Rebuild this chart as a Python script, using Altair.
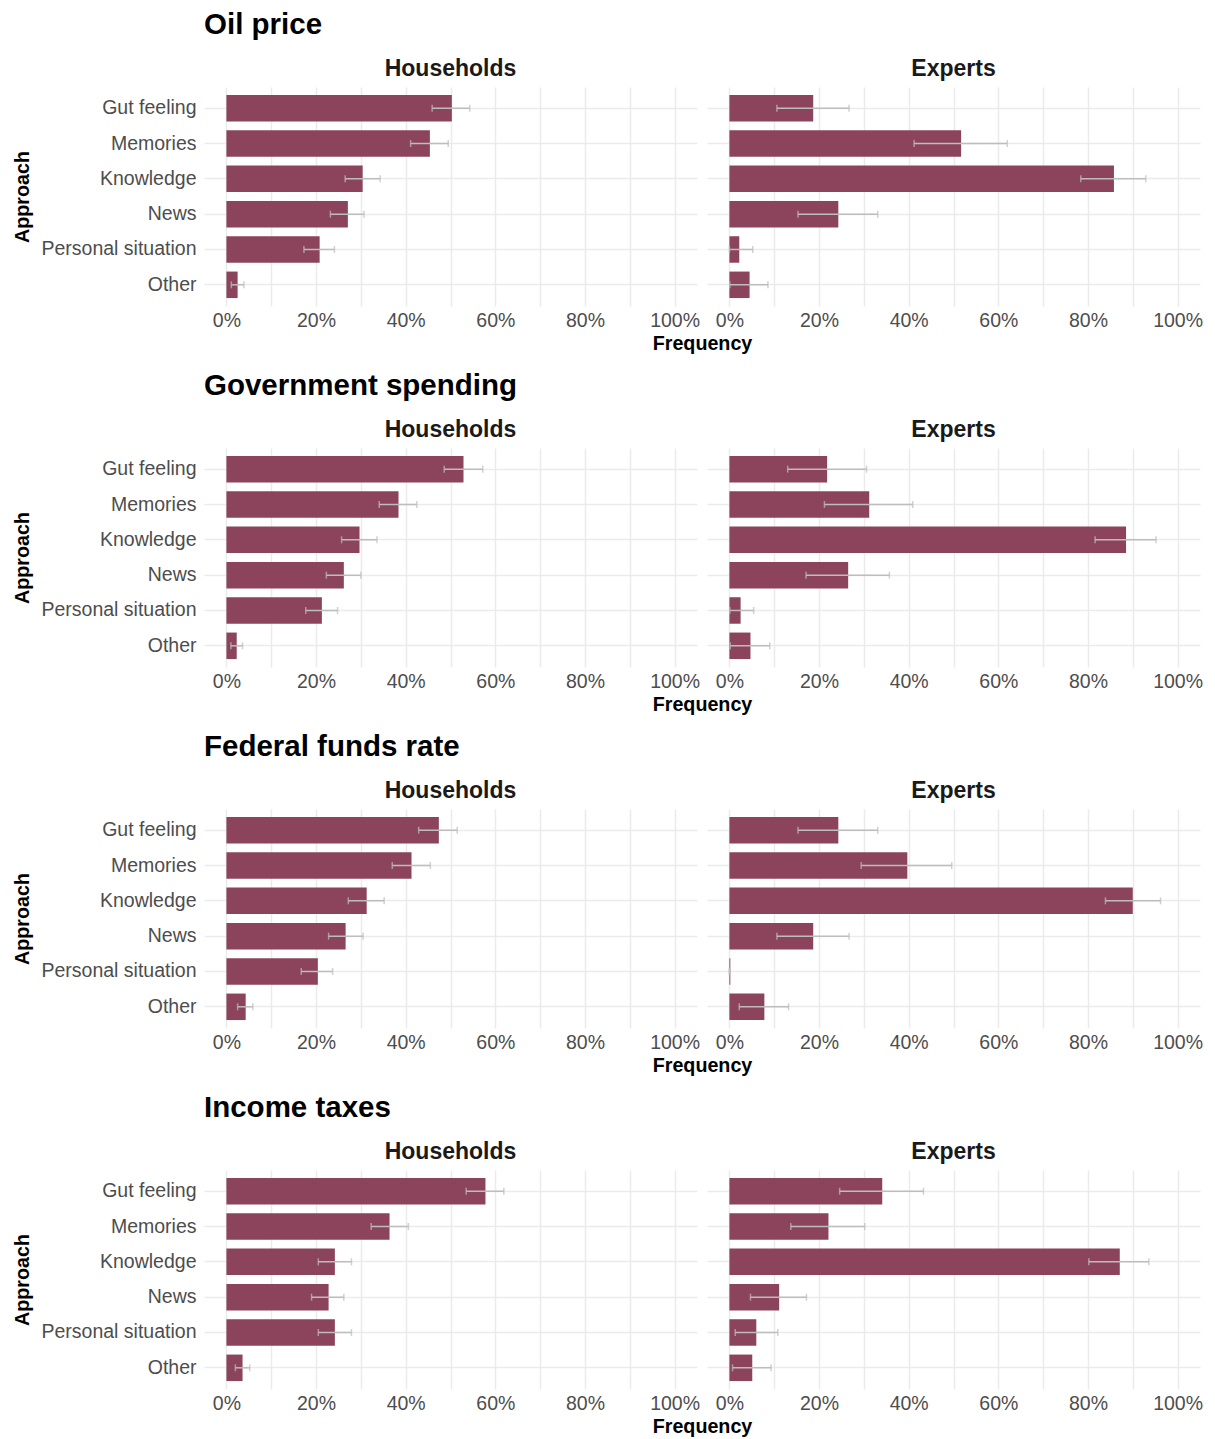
import altair as alt
import pandas as pd

approaches = ["Gut feeling", "Memories", "Knowledge", "News", "Personal situation", "Other"]
sections = ["Oil price", "Government spending", "Federal funds rate", "Income taxes"]
groups = ["Households", "Experts"]

# values in percent (mean, lower CI, upper CI), order follows `approaches`
oil_hh = [50.3, 45.4, 30.4, 27.1, 20.8, 2.5]
oil_hh_lo = [45.9, 41.1, 26.5, 23.2, 17.3, 1.1]
oil_hh_hi = [54.3, 49.5, 34.3, 30.7, 24.1, 3.9]
oil_ex = [18.7, 51.7, 85.8, 24.3, 2.2, 4.5]
oil_ex_lo = [10.6, 41.2, 78.4, 15.3, 0.0, 0.1]
oil_ex_hi = [26.7, 62.0, 92.9, 33.1, 5.2, 8.6]

gov_hh = [52.9, 38.4, 29.7, 26.2, 21.3, 2.3]
gov_hh_lo = [48.6, 34.1, 25.7, 22.3, 17.7, 1.0]
gov_hh_hi = [57.2, 42.5, 33.6, 30.0, 24.8, 3.6]
gov_ex = [21.8, 31.2, 88.5, 26.5, 2.5, 4.7]
gov_ex_lo = [13.0, 21.2, 81.6, 17.1, 0.1, 0.2]
gov_ex_hi = [30.6, 40.9, 95.2, 35.7, 5.4, 9.0]

fed_hh = [47.4, 41.3, 31.3, 26.6, 20.4, 4.3]
fed_hh_lo = [42.9, 37.0, 27.2, 22.8, 16.7, 2.5]
fed_hh_hi = [51.5, 45.5, 35.2, 30.5, 23.7, 5.9]
fed_ex = [24.3, 39.7, 90.0, 18.7, 0.2, 7.8]
fed_ex_lo = [15.3, 29.4, 83.9, 10.6, 0.0, 2.2]
fed_ex_hi = [33.1, 49.6, 96.2, 26.7, 0.0, 13.2]

tax_hh = [57.8, 36.4, 24.2, 22.8, 24.2, 3.6]
tax_hh_lo = [53.5, 32.3, 20.5, 19.0, 20.5, 2.0]
tax_hh_hi = [61.9, 40.6, 27.9, 26.2, 27.9, 5.2]
tax_ex = [34.1, 22.1, 87.1, 11.1, 6.0, 5.1]
tax_ex_lo = [24.6, 13.7, 80.2, 4.7, 1.3, 0.7]
tax_ex_hi = [43.3, 30.2, 93.6, 17.2, 10.8, 9.3]

series = {
    ("Oil price", "Households"): (oil_hh, oil_hh_lo, oil_hh_hi),
    ("Oil price", "Experts"): (oil_ex, oil_ex_lo, oil_ex_hi),
    ("Government spending", "Households"): (gov_hh, gov_hh_lo, gov_hh_hi),
    ("Government spending", "Experts"): (gov_ex, gov_ex_lo, gov_ex_hi),
    ("Federal funds rate", "Households"): (fed_hh, fed_hh_lo, fed_hh_hi),
    ("Federal funds rate", "Experts"): (fed_ex, fed_ex_lo, fed_ex_hi),
    ("Income taxes", "Households"): (tax_hh, tax_hh_lo, tax_hh_hi),
    ("Income taxes", "Experts"): (tax_ex, tax_ex_lo, tax_ex_hi),
}

BAR = "#8B445C"
ERR = "#BDBDBD"
FONT = "Liberation Sans"
PW, PH = 493, 219

xscale = alt.Scale(domain=[-0.05, 1.05], nice=False, zero=False)
yscale = alt.Scale(paddingInner=0.25, paddingOuter=0.225)
xvals = [i / 10 for i in range(11)]
LBL = "round(datum.value*100) % 20 == 0 ? format(datum.value, '.0%') : ''"


def panel(section, group, left):
    m, lo, hi = series[(section, group)]
    df = pd.DataFrame({
        "approach": approaches,
        "value": [v / 100 for v in m],
        "lo": [v / 100 for v in lo],
        "hi": [v / 100 for v in hi],
    })
    if left:
        yaxis = alt.Axis(title="Approach", grid=True, bandPosition=0.5,
                         labelPadding=8, titlePadding=8)
        xaxis = alt.Axis(title="Frequency", values=xvals, grid=True, labelExpr=LBL,
                         labelPadding=5, titlePadding=4,
                         titleX=PW + 5, titleAnchor="middle", titleAlign="center")
    else:
        yaxis = alt.Axis(title=None, grid=True, bandPosition=0.5, labels=False)
        xaxis = alt.Axis(title=None, values=xvals, grid=True, labelExpr=LBL,
                         labelPadding=5)
    base = alt.Chart(df).encode(
        y=alt.Y("approach:N", sort=approaches, scale=yscale, axis=yaxis)
    )
    bars = base.mark_bar(color=BAR).encode(
        x=alt.X("value:Q", scale=xscale, axis=xaxis),
        x2=alt.datum(0),
    )
    rule = base.mark_rule(color=ERR, strokeWidth=1.5).encode(
        x=alt.X("lo:Q", scale=xscale, axis=xaxis), x2="hi:Q"
    )
    cap_lo = base.mark_tick(color=ERR, thickness=1.5, size=7).encode(
        x=alt.X("lo:Q", scale=xscale, axis=xaxis)
    )
    cap_hi = base.mark_tick(color=ERR, thickness=1.5, size=7).encode(
        x=alt.X("hi:Q", scale=xscale, axis=xaxis)
    )
    return alt.layer(bars, rule, cap_lo, cap_hi).properties(
        width=PW, height=PH,
        title=alt.TitleParams(group, fontSize=23, fontWeight="bold", anchor="middle",
                              color="#1a1a1a", offset=6),
    )


rows = []
for s in sections:
    row = alt.hconcat(panel(s, "Households", True), panel(s, "Experts", False),
                      spacing=10, bounds="flush").properties(
        title=alt.TitleParams(s, anchor="start", fontSize=29.5, fontWeight="bold", color="black",
                              dx=191, offset=18)
    )
    rows.append(row)

chart = alt.vconcat(*rows, spacing=16).properties(
    padding={"left": 12, "top": 9, "right": 5, "bottom": 5}
).configure(font=FONT).configure_view(stroke=None).configure_axis(
    labelFontSize=19.5, labelColor="#4D4D4D", labelFont=FONT,
    titleFontSize=19.7, titleFontWeight="bold", titleColor="black", titleFont=FONT,
    domain=False, ticks=False, gridColor="#EBEBEB", gridWidth=1.5,
).configure_title(font=FONT)

chart.save("out.html", embed_options={"renderer": "svg", "actions": False})
